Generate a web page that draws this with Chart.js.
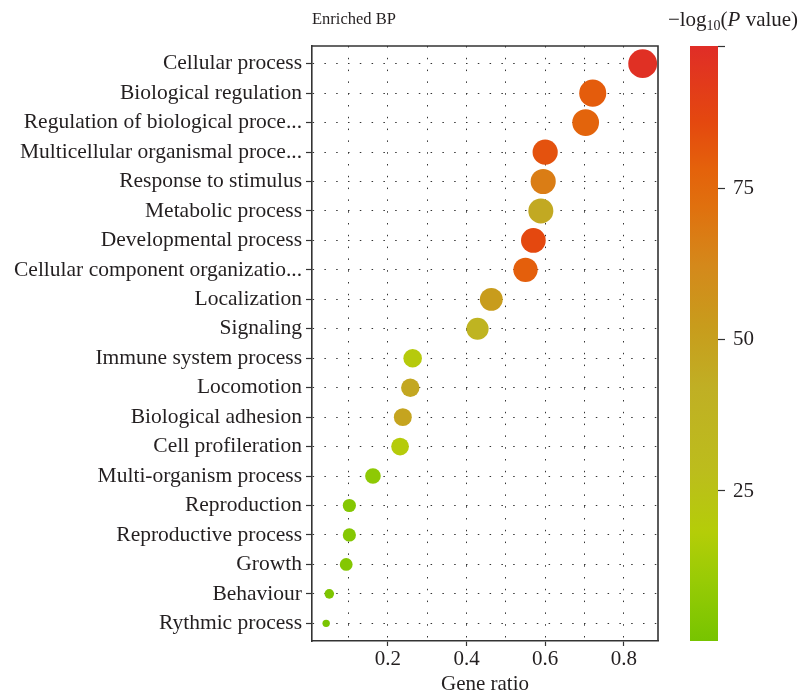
<!DOCTYPE html>
<html>
<head>
<meta charset="utf-8">
<title>Enriched BP</title>
<script src="https://cdn.jsdelivr.net/npm/chart.js@4.4.1/dist/chart.umd.min.js"></script>
<style>
  html, body { margin: 0; padding: 0; background: #ffffff; }
  #wrap { width: 803px; height: 697px; position: relative; }
  canvas { display: block; }
</style>
</head>
<body>
<div id="wrap"><canvas id="chart" width="803" height="697"></canvas></div>
<script>
// GO biological-process terms, top to bottom
const terms = [
  'Cellular process',
  'Biological regulation',
  'Regulation of biological proce...',
  'Multicellular organismal proce...',
  'Response to stimulus',
  'Metabolic process',
  'Developmental process',
  'Cellular component organizatio...',
  'Localization',
  'Signaling',
  'Immune system process',
  'Locomotion',
  'Biological adhesion',
  'Cell profileration',
  'Multi-organism process',
  'Reproduction',
  'Reproductive process',
  'Growth',
  'Behaviour',
  'Rythmic process'
];

// Gene ratio of each term (x position, also drives dot size)
const geneRatio = [
  0.848, 0.721, 0.703, 0.600, 0.595, 0.589, 0.570, 0.550, 0.463, 0.428,
  0.263, 0.257, 0.238, 0.231, 0.162, 0.102, 0.102, 0.094, 0.051, 0.043
];

// -log10(P value) of each term (dot colour)
const negLogP = [
  97, 80, 77, 83, 67, 45, 86, 79, 52, 37,
  20, 46, 48, 19, 7, 4, 4, 4, 2, 1
];

// Axis ticks
const ratioGrid = [0.1, 0.2, 0.3, 0.4, 0.5, 0.6, 0.7, 0.8];
const ratioLabels = [0.2, 0.4, 0.6, 0.8];
const colorTicks = [25, 50, 75];
const colorRange = [0, 98.5];

const FAMILY = "'Liberation Serif', 'DejaVu Serif', serif";
const FS = 21;
const TEXT = '#231f20';
const INK = '#333333';

// Green -> yellow -> orange -> red colour ramp for -log10(P)
const rampStops = [
  [0,    [119, 196, 0]],
  [10,   [152, 203, 5]],
  [18,   [180, 205, 8]],
  [28,   [188, 189, 28]],
  [42,   [192, 175, 36]],
  [52,   [200, 156, 28]],
  [62,   [212, 137, 27]],
  [72,   [224, 112, 14]],
  [78,   [228, 98, 11]],
  [86,   [228, 72, 15]],
  [98.5, [224, 45, 39]]
];
function rampColor(v) {
  if (v <= rampStops[0][0]) return toRgb(rampStops[0][1]);
  for (let i = 1; i < rampStops.length; i++) {
    const [v1, c1] = rampStops[i];
    const [v0, c0] = rampStops[i - 1];
    if (v <= v1) {
      const t = (v - v0) / (v1 - v0);
      return toRgb(c0.map((c, k) => c + (c1[k] - c) * t));
    }
  }
  return toRgb(rampStops[rampStops.length - 1][1]);
}
function toRgb(c) {
  return `rgb(${Math.round(c[0])}, ${Math.round(c[1])}, ${Math.round(c[2])})`;
}

// Dot radius: area-style size scale over the gene-ratio range
const rMin = 3.7, rMax = 14.4;
const gMin = Math.min(...geneRatio), gMax = Math.max(...geneRatio);
function dotRadius(g) {
  return rMin + (rMax - rMin) * Math.sqrt((g - gMin) / (gMax - gMin));
}

const points = terms.map((t, i) => ({ x: geneRatio[i], y: i + 1 }));

// Full frame around the plot plus the colour bar legend
const framePlugin = {
  id: 'frameAndColorbar',
  afterDraw(chart) {
    const { ctx, chartArea: a } = chart;
    ctx.save();
    ctx.strokeStyle = INK;
    ctx.lineWidth = 1.6;
    ctx.beginPath();
    ctx.moveTo(a.left, a.top);
    ctx.lineTo(a.right, a.top);
    ctx.lineTo(a.right, a.bottom);
    ctx.stroke();

    // colour bar
    const cb = chart.scales.cb;
    const x0 = 690, x1 = 718;
    const yTop = cb.getPixelForValue(colorRange[1]);
    const yBot = cb.getPixelForValue(colorRange[0]);
    const grad = ctx.createLinearGradient(0, yBot, 0, yTop);
    rampStops.forEach(([v, c]) => {
      grad.addColorStop((v - colorRange[0]) / (colorRange[1] - colorRange[0]), toRgb(c));
    });
    ctx.fillStyle = grad;
    ctx.fillRect(x0, yTop, x1 - x0, yBot - yTop);

    ctx.strokeStyle = INK;
    ctx.lineWidth = 1.2;
    ctx.fillStyle = TEXT;
    ctx.font = `${FS}px ${FAMILY}`;
    ctx.textAlign = 'left';
    ctx.textBaseline = 'middle';
    [...colorTicks, colorRange[1]].forEach(v => {
      const y = Math.round(cb.getPixelForValue(v)) + 0.5;
      ctx.beginPath();
      ctx.moveTo(x1, y);
      ctx.lineTo(x1 + 7, y);
      ctx.stroke();
    });
    colorTicks.forEach(v => {
      ctx.fillText(String(v), x1 + 15, cb.getPixelForValue(v) + 1);
    });

    // colour bar title: −log10(P value)
    const main = `${FS}px ${FAMILY}`;
    const sub = `14px ${FAMILY}`;
    const ital = `italic ${FS}px ${FAMILY}`;
    const parts = [
      { t: '\u2212log', f: main, dy: 0 },
      { t: '10', f: sub, dy: 4 },
      { t: '(', f: main, dy: 0 },
      { t: 'P', f: ital, dy: 0 },
      { t: ' value)', f: main, dy: 0 }
    ];
    let w = 0;
    parts.forEach(p => { ctx.font = p.f; p.w = ctx.measureText(p.t).width; w += p.w; });
    let x = 733 - w / 2;
    ctx.textBaseline = 'alphabetic';
    parts.forEach(p => {
      ctx.font = p.f;
      ctx.fillText(p.t, x, 26 + p.dy);
      x += p.w;
    });
    ctx.restore();
  }
};

const isLabelled = v => ratioLabels.some(l => Math.abs(l - v) < 1e-9);

new Chart(document.getElementById('chart'), {
  type: 'bubble',
  data: {
    datasets: [{
      data: points,
      borderWidth: 0,
      backgroundColor: ctx => rampColor(negLogP[ctx.dataIndex]),
      radius: ctx => dotRadius(geneRatio[ctx.dataIndex]),
      hoverRadius: 0
    }]
  },
  options: {
    responsive: false,
    animation: false,
    events: [],
    layout: { padding: { left: 0, right: 145, top: 0, bottom: 0 } },
    plugins: {
      legend: { display: false },
      tooltip: { enabled: false },
      title: {
        display: true,
        text: 'Enriched BP',
        align: 'start',
        fullSize: false,
        color: TEXT,
        font: { family: FAMILY, size: 16.5, weight: 'normal' },
        padding: { top: 10, bottom: 16.2 }
      }
    },
    scales: {
      x: {
        type: 'linear',
        min: 0.007,
        max: 0.887,
        afterBuildTicks: s => { s.ticks = ratioGrid.map(v => ({ value: v })); },
        afterFit: s => { s.height = 56; },
        ticks: {
          autoSkip: false,
          maxRotation: 0,
          padding: 1,
          color: TEXT,
          font: { family: FAMILY, size: FS },
          callback: v => isLabelled(v) ? v.toFixed(1) : ''
        },
        grid: {
          color: INK,
          lineWidth: 1,
          drawTicks: true,
          tickLength: 5,
          tickWidth: 1.2,
          tickColor: c => (c.tick && isLabelled(c.tick.value)) ? INK : 'rgba(0,0,0,0)'
        },
        border: { display: true, color: INK, width: 1.6, dash: [1.5, 10.3] },
        title: {
          display: true,
          text: 'Gene ratio',
          color: TEXT,
          font: { family: FAMILY, size: FS },
          padding: { top: 0, bottom: 0 }
        }
      },
      y: {
        type: 'linear',
        reverse: true,
        min: 0.4,
        max: 20.6,
        afterBuildTicks: s => { s.ticks = terms.map((t, i) => ({ value: i + 1 })); },
        afterFit: s => { s.width = 312; },
        ticks: {
          autoSkip: false,
          padding: 4,
          color: TEXT,
          font: { family: FAMILY, size: 21.5 },
          callback: (v, i) => terms[i]
        },
        grid: {
          color: INK,
          lineWidth: 1,
          drawTicks: true,
          tickLength: 6,
          tickWidth: 1.2,
          tickColor: INK
        },
        border: { display: true, color: INK, width: 1.6, dash: [1.5, 10.3] }
      },
      cb: {
        type: 'linear',
        position: 'right',
        display: false,
        min: colorRange[0],
        max: colorRange[1]
      }
    }
  },
  plugins: [framePlugin]
});
</script>
</body>
</html>
